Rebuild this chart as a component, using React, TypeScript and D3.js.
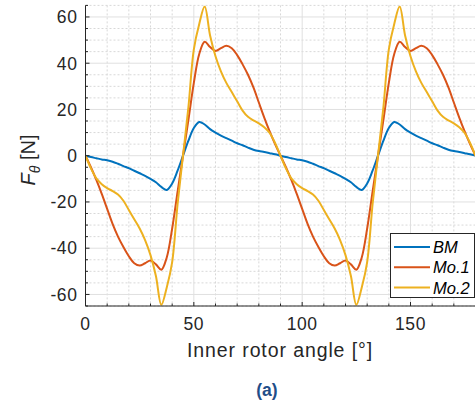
import React from "react";
import * as d3 from "d3";

const angles: number[] = [
  0, 2.5, 5, 7.5, 10, 12.5, 15, 17.5, 20, 22.5, 25, 27.5, 30, 32.5, 35, 37.5, 40, 42.5, 45,
  47.5, 50, 52.5, 55, 57.5, 60, 62.5, 65, 67.5, 70, 72.5, 75, 77.5, 80, 82.5, 85, 87.5, 90,
  92.5, 95, 97.5, 100, 102.5, 105, 107.5, 110, 112.5, 115, 117.5, 120, 122.5, 125, 127.5, 130, 132.5, 135,
  137.5, 140, 142.5, 145, 147.5, 150, 152.5, 155, 157.5, 160, 162.5, 165, 167.5, 170, 172.5, 175, 177.5, 180,
];

const bm: number[] = [
  0, -0.6, -1.1, -1.6, -2.0, -2.6, -3.5, -4.5, -5.4, -6.5, -7.6, -8.7, -10.0, -11.5, -13.5, -14.8, -12.0, -6.5, 0,
  6.5, 12.0, 14.6, 13.5, 11.5, 10.0, 8.7, 7.6, 6.5, 5.4, 4.5, 3.5, 2.6, 2.0, 1.6, 1.1, 0.6, 0,
  -0.6, -1.1, -1.6, -2.0, -2.6, -3.5, -4.5, -5.4, -6.5, -7.6, -8.7, -10.0, -11.5, -13.5, -14.8, -12.0, -6.5, 0,
  6.5, 12.0, 14.6, 13.5, 11.5, 10.0, 8.7, 7.6, 6.5, 5.4, 4.5, 3.5, 2.6, 2.0, 1.6, 1.1, 0.6, 0,
];

const mo1: number[] = [
  0, -5, -10.5, -16.5, -23, -29.5, -35, -39.5, -43.5, -46.5, -47.5, -46.5, -45.3, -47, -49.3, -44, -31.5, -15.5, 0,
  15.5, 31.5, 44, 49.3, 47, 45.3, 46.5, 47.5, 46.5, 43.5, 39.5, 35, 29.5, 23, 16.5, 10.5, 5, 0,
  -5, -10.5, -16.5, -23, -29.5, -35, -39.5, -43.5, -46.5, -47.5, -46.5, -45.3, -47, -49.3, -44, -31.5, -15.5, 0,
  15.5, 31.5, 44, 49.3, 47, 45.3, 46.5, 47.5, 46.5, 43.5, 39.5, 35, 29.5, 23, 16.5, 10.5, 5, 0,
];

const mo2: number[] = [
  0, -5.5, -9.8, -12.3, -14, -15.3, -16.8, -19.5, -23.5, -27.5, -31.5, -36.5, -43, -52, -64.5, -57, -46, -21, 0,
  21, 46, 57, 64.5, 52, 43, 36.5, 31.5, 27.5, 23.5, 19.5, 16.8, 15.3, 14, 12.3, 9.8, 5.5, 0,
  -5.5, -9.8, -12.3, -14, -15.3, -16.8, -19.5, -23.5, -27.5, -31.5, -36.5, -43, -52, -64.5, -57, -46, -21, 0,
  21, 46, 57, 64.5, 52, 43, 36.5, 31.5, 27.5, 23.5, 19.5, 16.8, 15.3, 14, 12.3, 9.8, 5.5, 0,
];

const seriesNames: string[] = ["BM", "Mo.1", "Mo.2"];
const seriesColors: string[] = ["#0072BD", "#D95319", "#EDB120"];

const xMajorTicks: number[] = [0, 50, 100, 150];
const xMinorTicks: number[] = [10, 20, 30, 40, 60, 70, 80, 90, 110, 120, 130, 140, 160, 170, 180];
const yMajorTicks: number[] = [-60, -40, -20, 0, 20, 40, 60];
const yMinorTicks: number[] = [-65, -55, -50, -45, -35, -30, -25, -15, -10, -5, 5, 10, 15, 25, 30, 35, 45, 50, 55, 65];

const W = 475;
const H = 403;
const left = 85.5;
const right = 475.5;
const top = 5.4;
const bottom = 306;
const FONT = "'Liberation Sans', Arial, Helvetica, sans-serif";
const AX = "#262626";

export default function App() {
  const x = d3.scaleLinear().domain([0, 180]).range([left, right]);
  const y = d3.scaleLinear().domain([-65, 65]).range([bottom, top]);
  const series = [bm, mo1, mo2];
  const line = (vals: number[]) =>
    d3
      .line<number>()
      .x((_, i) => x(angles[i]))
      .y((d) => y(d))
      .curve(d3.curveCatmullRom.alpha(0.5))(vals) || "";

  return (
    <svg
      width={W}
      height={H}
      style={{ position: "absolute", left: 0, top: 0, background: "#fff" }}
      fontFamily={FONT}
    >
      <defs>
        <clipPath id="plotclip">
          <rect x={left} y={top} width={right - left} height={bottom - top} />
        </clipPath>
      </defs>
      {xMinorTicks.map((t) => (
        <line key={"xm" + t} x1={x(t)} x2={x(t)} y1={top} y2={bottom} stroke="#d8d8d8" strokeWidth={1} strokeDasharray="2,2" />
      ))}
      {yMinorTicks.map((t) => (
        <line key={"ym" + t} x1={left} x2={right} y1={y(t)} y2={y(t)} stroke="#d8d8d8" strokeWidth={1} strokeDasharray="2,2" />
      ))}
      {xMajorTicks.map((t) => (
        <line key={"xM" + t} x1={x(t)} x2={x(t)} y1={top} y2={bottom} stroke="#e0e0e0" strokeWidth={1} />
      ))}
      {yMajorTicks.map((t) => (
        <line key={"yM" + t} x1={left} x2={right} y1={y(t)} y2={y(t)} stroke="#e0e0e0" strokeWidth={1} />
      ))}
      <g clipPath="url(#plotclip)">
        {series.map((s, i) => (
          <path key={i} d={line(s)} fill="none" stroke={seriesColors[i]} strokeWidth={2} strokeLinejoin="round" />
        ))}
      </g>
      <line x1={left} x2={left} y1={top} y2={bottom} stroke={AX} strokeWidth={1} />
      <line x1={left} x2={right} y1={bottom} y2={bottom} stroke={AX} strokeWidth={1} />
      {yMajorTicks.map((t) => (
        <line key={"yt" + t} x1={left} x2={left + 4} y1={y(t)} y2={y(t)} stroke={AX} strokeWidth={1} />
      ))}
      {yMinorTicks.map((t) => (
        <line key={"ytm" + t} x1={left} x2={left + 2.5} y1={y(t)} y2={y(t)} stroke={AX} strokeWidth={1} />
      ))}
      {xMajorTicks.map((t) => (
        <line key={"xt" + t} x1={x(t)} x2={x(t)} y1={bottom} y2={bottom - 4} stroke={AX} strokeWidth={1} />
      ))}
      {xMinorTicks.map((t) => (
        <line key={"xtm" + t} x1={x(t)} x2={x(t)} y1={bottom} y2={bottom - 2.5} stroke={AX} strokeWidth={1} />
      ))}
      {yMajorTicks.map((t) => (
        <text key={"yl" + t} x={left - 8} y={y(t)} dy="0.36em" textAnchor="end" fontSize={17.5} letterSpacing={0.6} fill={AX}>
          {t}
        </text>
      ))}
      {xMajorTicks.map((t) => (
        <text key={"xl" + t} x={x(t)} y={330} textAnchor="middle" fontSize={17.5} letterSpacing={0.6} fill={AX}>
          {t}
        </text>
      ))}
      <text x={280} y={357} textAnchor="middle" fontSize={19.5} letterSpacing={0.9} fill={AX}>
        Inner rotor angle [°]
      </text>
      <text transform="translate(35,160) rotate(-90)" textAnchor="middle" fontSize={20} fill={AX}>
        <tspan fontStyle="italic">F</tspan>
        <tspan fontStyle="italic" fontSize={14} dy={5}>θ</tspan>
        <tspan dy={-5}> [N]</tspan>
      </text>
      <g>
        <rect x={390.5} y={233.5} width={84} height={64} fill="#fff" stroke={AX} strokeWidth={1} />
        {seriesNames.map((n, i) => (
          <g key={n}>
            <line x1={394} x2={430} y1={247 + i * 20.3} y2={247 + i * 20.3} stroke={seriesColors[i]} strokeWidth={2} />
            <text x={433} y={247 + i * 20.3} dy="0.36em" fontSize={16.5} fontStyle="italic" fill="#000">
              {n}
            </text>
          </g>
        ))}
      </g>
      <text x={267} y={396} textAnchor="middle" fontSize={17.5} fontWeight="bold" fill="#1f4e89">
        (a)
      </text>
    </svg>
  );
}
